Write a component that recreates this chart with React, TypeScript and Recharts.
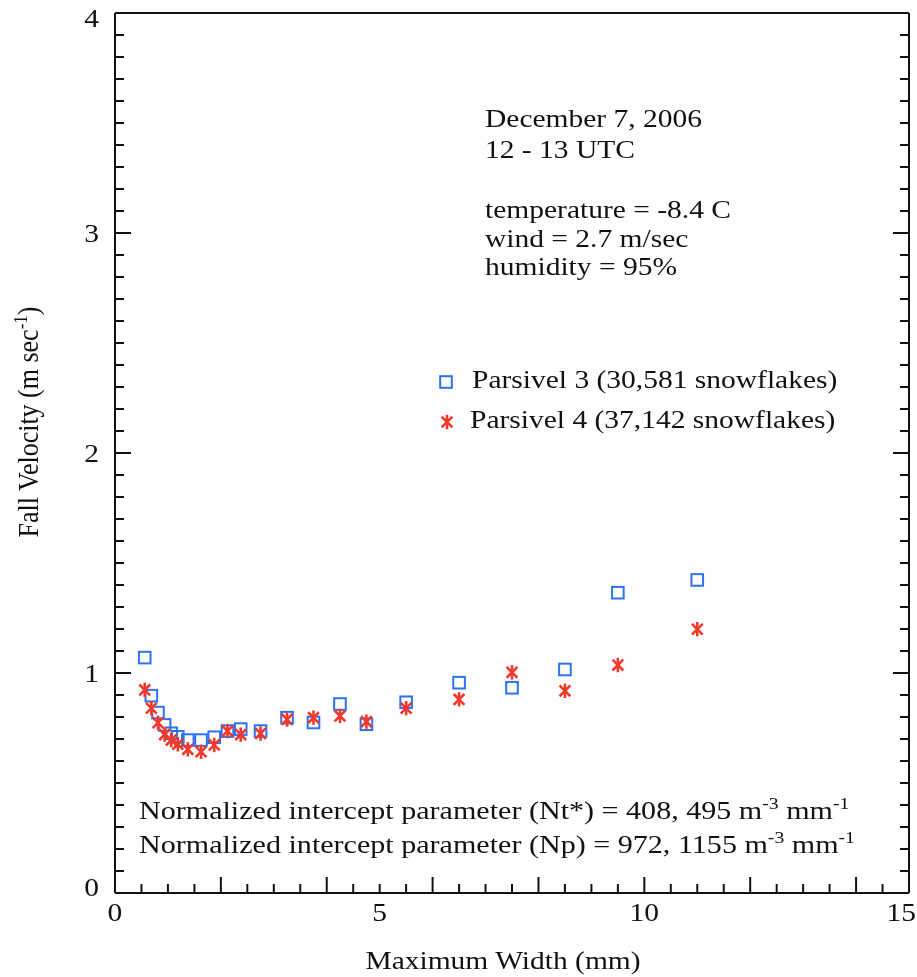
import { ScatterChart, Scatter, XAxis, YAxis } from 'recharts';

// Parsivel size-class centres (mm)
const widthMm = [0.562, 0.687, 0.812, 0.937, 1.062, 1.187, 1.375, 1.625, 1.875, 2.125, 2.375, 2.75, 3.25, 3.75, 4.25, 4.75, 5.5, 6.5, 7.5, 8.5, 9.5, 11];
// mean fall velocity (m/s)
const parsivel3 = [1.07, 0.897, 0.82, 0.764, 0.726, 0.71, 0.695, 0.695, 0.708, 0.736, 0.745, 0.736, 0.797, 0.775, 0.859, 0.767, 0.867, 0.956, 0.933, 1.016, 1.365, 1.423];
const parsivel4 = [0.923, 0.84, 0.774, 0.72, 0.695, 0.676, 0.653, 0.642, 0.673, 0.736, 0.72, 0.725, 0.789, 0.797, 0.805, 0.779, 0.84, 0.88, 1.003, 0.919, 1.036, 1.199];

const xTicks = [0, 0.5, 1, 1.5, 2, 2.5, 3, 3.5, 4, 4.5, 5, 5.5, 6, 6.5, 7, 7.5, 8, 8.5, 9, 9.5, 10, 10.5, 11, 11.5, 12, 12.5, 13, 13.5, 14, 14.5, 15];
const xLabels = [0, 5, 10, 15];
const yTicks = [
  0, 0.1, 0.2, 0.3, 0.4, 0.5, 0.6, 0.7, 0.8, 0.9,
  1, 1.1, 1.2, 1.3, 1.4, 1.5, 1.6, 1.7, 1.8, 1.9,
  2, 2.1, 2.2, 2.3, 2.4, 2.5, 2.6, 2.7, 2.8, 2.9,
  3, 3.1, 3.2, 3.3, 3.4, 3.5, 3.6, 3.7, 3.8, 3.9, 4,
];
const yLabels = [0, 1, 2, 3, 4];

const infoLines = ['December 7, 2006', '12 - 13 UTC', 'temperature = -8.4 C', 'wind = 2.7 m/sec', 'humidity = 95%'];
const legendNames = ['Parsivel 3 (30,581 snowflakes)', 'Parsivel 4 (37,142 snowflakes)'];

const BLUE = '#2d72f2';
const RED = '#f2392c';
const INK = '#111';
const FONT = '"Liberation Serif", "Times New Roman", serif';
const SX = 1.135; // the source text is a bit wider than plain Times

const p3Data = widthMm.map((x, i) => ({ x, y: parsivel3[i] }));
const p4Data = widthMm.map((x, i) => ({ x, y: parsivel4[i] }));

function T({ x, y, anchor = 'start', size = 26, sx = SX, children }: any) {
  return (
    <g transform={`translate(${x},${y}) scale(${sx},1)`}>
      <text x={0} y={0} fontSize={size} fontFamily={FONT} fill={INK} textAnchor={anchor}>
        {children}
      </text>
    </g>
  );
}

const Sup = ({ children }: any) => (
  <>
    <tspan dy={-10} fontSize={17}>{children}</tspan>
    <tspan dy={10}> </tspan>
  </>
);

function Square({ cx, cy }: any) {
  return <rect x={cx - 5.8} y={cy - 5.8} width={11.6} height={11.6} fill="none" stroke={BLUE} strokeWidth={2} />;
}

function Star({ cx, cy }: any) {
  const r = 7.2;
  const d = 5.4;
  return (
    <g stroke={RED} strokeWidth={2.6}>
      <line x1={cx} y1={cy - r} x2={cx} y2={cy + r} />
      <line x1={cx - d} y1={cy - d} x2={cx + d} y2={cy + d} />
      <line x1={cx - d} y1={cy + d} x2={cx + d} y2={cy - d} />
    </g>
  );
}

const isMajorX = (v: number) => v % 2 === 0;
const isMajorY = (v: number) => Math.abs(v - Math.round(v)) < 1e-6;

function BottomTick({ x, y, payload }: any) {
  const v = payload.value;
  const last = v === 15;
  return (
    <g>
      <line x1={x} x2={x} y1={y} y2={y - (isMajorX(v) ? 16 : 9)} stroke={INK} strokeWidth={2} />
      {xLabels.includes(v) && (
        <T x={last ? x + 7 : x} y={y + 28} anchor={last ? 'end' : 'middle'}>{v}</T>
      )}
    </g>
  );
}

function TopTick({ x, y, payload }: any) {
  const v = payload.value;
  return <line x1={x} x2={x} y1={y} y2={y + (isMajorX(v) ? 16 : 9)} stroke={INK} strokeWidth={2} />;
}

function LeftTick({ x, y, payload }: any) {
  const v = payload.value;
  const shift = v === 4 ? 5 : v === 0 ? -6 : 0;
  return (
    <g>
      <line x1={x} x2={x + (isMajorY(v) ? 16 : 9)} y1={y} y2={y} stroke={INK} strokeWidth={2} />
      {yLabels.includes(v) && <T x={x - 16} y={y + 9 + shift} anchor="end">{v}</T>}
    </g>
  );
}

function RightTick({ x, y, payload }: any) {
  const v = payload.value;
  return <line x1={x} x2={x - (isMajorY(v) ? 16 : 9)} y1={y} y2={y} stroke={INK} strokeWidth={2} />;
}

const axisLine = { stroke: INK, strokeWidth: 2 };

export default function App() {
  // fixed so the 909x969 chart never pushes scrollbars into the 917x977 window
  return (
    <div style={{ position: 'fixed', left: 8, top: 8, width: 909, height: 969 }}>
      <ScatterChart width={909} height={969} margin={{ top: 4, right: 7, bottom: 0, left: 0 }}>
        <XAxis
          xAxisId="b"
          type="number"
          dataKey="x"
          domain={[0, 15]}
          ticks={xTicks}
          interval={0}
          tick={(p: any) => <BottomTick {...p} />}
          tickLine={false}
          tickSize={0}
          tickMargin={0}
          axisLine={axisLine}
          height={84}
          allowDataOverflow
        />
        <XAxis
          xAxisId="t"
          orientation="top"
          type="number"
          domain={[0, 15]}
          ticks={xTicks}
          interval={0}
          tick={(p: any) => <TopTick {...p} />}
          tickLine={false}
          tickSize={0}
          tickMargin={0}
          axisLine={axisLine}
          height={1}
          allowDataOverflow
        />
        <YAxis
          yAxisId="l"
          type="number"
          dataKey="y"
          domain={[0, 4]}
          ticks={yTicks}
          interval={0}
          tick={(p: any) => <LeftTick {...p} />}
          tickLine={false}
          tickSize={0}
          tickMargin={0}
          axisLine={axisLine}
          width={107}
          allowDataOverflow
        />
        <YAxis
          yAxisId="r"
          orientation="right"
          type="number"
          domain={[0, 4]}
          ticks={yTicks}
          interval={0}
          tick={(p: any) => <RightTick {...p} />}
          tickLine={false}
          tickSize={0}
          tickMargin={0}
          axisLine={axisLine}
          width={1}
          allowDataOverflow
        />
        <Scatter xAxisId="b" yAxisId="l" data={p3Data} shape={(p: any) => <Square {...p} />} isAnimationActive={false} />
        <Scatter xAxisId="b" yAxisId="l" data={p4Data} shape={(p: any) => <Star {...p} />} isAnimationActive={false} />
      </ScatterChart>
      <svg width={909} height={969} style={{ position: 'absolute', left: 0, top: 0, pointerEvents: 'none' }}>
        <T x={477} y={119}>{infoLines[0]}</T>
        <T x={477} y={150}>{infoLines[1]}</T>
        <T x={477} y={210}>{infoLines[2]}</T>
        <T x={477} y={239}>{infoLines[3]}</T>
        <T x={477} y={267}>{infoLines[4]}</T>

        <Square cx={438} cy={374} />
        <T x={464} y={380}>{legendNames[0]}</T>
        <Star cx={439} cy={414} />
        <T x={462} y={420}>{legendNames[1]}</T>

        <T x={131} y={811} sx={1.157}>
          Normalized intercept parameter (Nt*) = 408, 495 m<Sup>-3</Sup>mm<tspan dy={-10} fontSize={17}>-1</tspan>
        </T>
        <T x={131} y={845} sx={1.157}>
          Normalized intercept parameter (Np) = 972, 1155 m<Sup>-3</Sup>mm<tspan dy={-10} fontSize={17}>-1</tspan>
        </T>

        <T x={495} y={961} anchor="middle">Maximum Width (mm)</T>

        <g transform={`translate(30,414) scale(${SX},1) rotate(-90)`}>
          <text x={0} y={0} fontSize={26} fontFamily={FONT} fill={INK} textAnchor="middle">
            Fall Velocity (m sec<tspan dy={-10} fontSize={17}>-1</tspan>
            <tspan dy={10}>)</tspan>
          </text>
        </g>
      </svg>
    </div>
  );
}
